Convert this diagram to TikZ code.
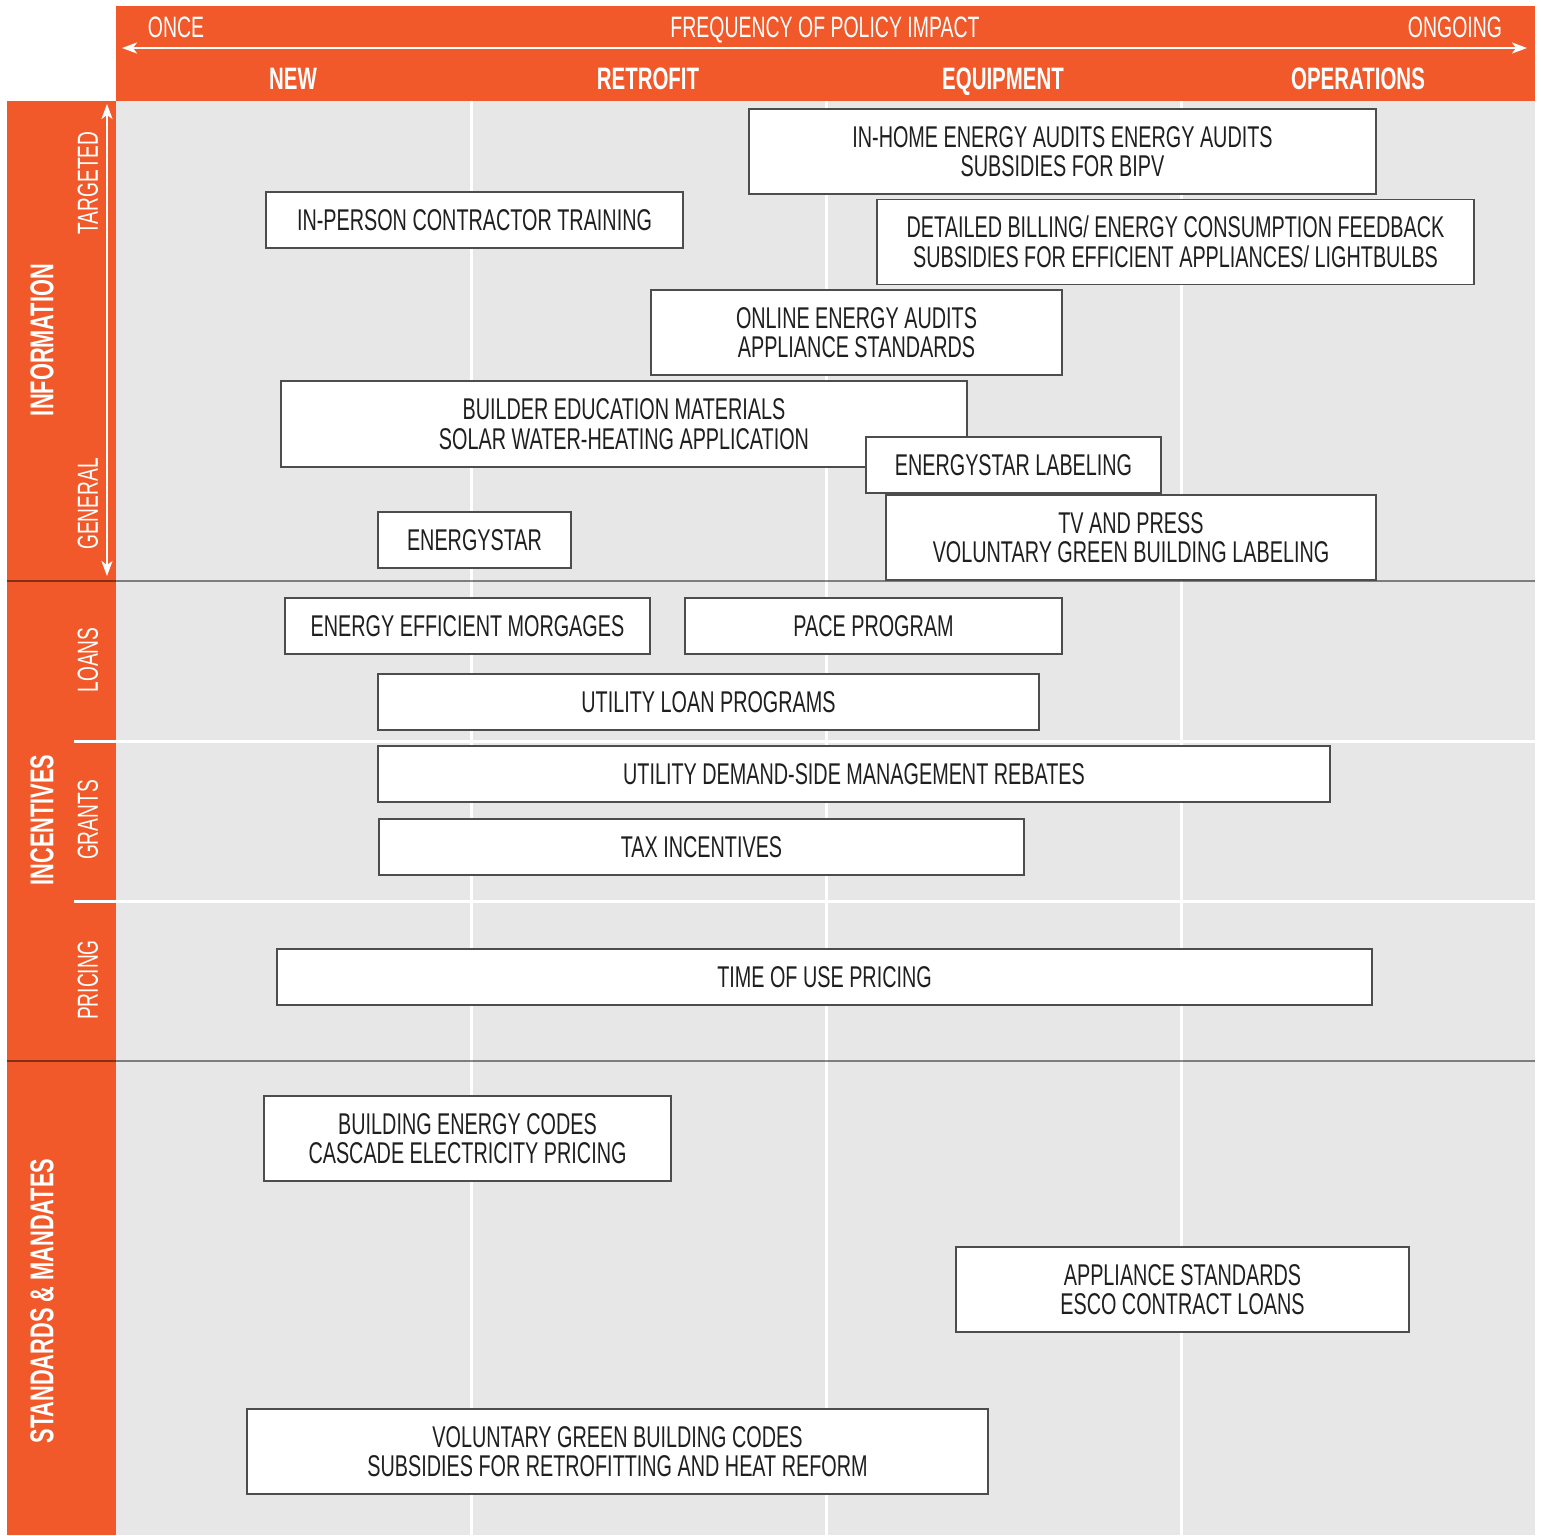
\documentclass[tikz,border=0pt]{standalone}
\usepackage{fontspec}
\setmainfont{Liberation Sans}[FakeStretch=0.66]
\usetikzlibrary{arrows.meta}

\definecolor{policyorange}{HTML}{F1592A}
\definecolor{gridgrey}{HTML}{E6E7E6}
\definecolor{boxline}{HTML}{4D4D4D}

\begin{document}
\begin{tikzpicture}[
    x=1pt, y=-1pt,
    policy/.style={draw=boxline, line width=1.3pt, fill=white, align=center,
        inner sep=0pt, text=black!88, font=\fontsize{30}{29.5}\selectfont},
    colhead/.style={anchor=base, text=white, font=\fontsize{31}{32}\selectfont\bfseries},
    freqlabel/.style={anchor=base, text=white, font=\fontsize{29.5}{30}\selectfont},
    sidehead/.style={rotate=90, text=white, font=\fontsize{33}{34}\selectfont\bfseries},
    sublabel/.style={rotate=90, text=white, font=\fontsize{29}{30}\selectfont},
    axisarrow/.style={white, line width=1.8pt, {Stealth[length=15pt,width=11pt,inset=4pt]}-{Stealth[length=15pt,width=11pt,inset=4pt]}},
    gridline/.style={white, line width=3pt},
    sectionline/.style={black, opacity=0.45, line width=2pt},
  ]
  \useasboundingbox (0,0) rectangle (1541,1535);
  \fill[white] (0,0) rectangle (1541,1535);

  % bands and grid
  \fill[gridgrey] (116,101) rectangle (1535,1535);
  \fill[policyorange] (116,6) rectangle (1535,101);
  \fill[policyorange] (7,101) rectangle (116,1535);
  \foreach \x in {471,826,1181}
    \draw[gridline] (\x,101) -- (\x,1535);
  \foreach \y in {741,901}
    \draw[gridline] (74,\y) -- (1535,\y);
  \foreach \y in {581,1061}
    \draw[sectionline] (7,\y) -- (1535,\y);

  % frequency axis
  \coordinate (freqL) at (122,48);
  \coordinate (freqR) at (1527,48);
  \draw[axisarrow] (freqL) -- (freqR);
  \node[freqlabel] (once) at (176,37) {ONCE};
  \node[freqlabel] (freq) at (825,37) {FREQUENCY OF POLICY IMPACT};
  \node[freqlabel] (ongoing) at (1455,37) {ONGOING};

  \node[colhead] (new) at (293,89) {NEW};
  \node[colhead] (retrofit) at (648,89) {RETROFIT};
  \node[colhead] (equipment) at (1003,89) {EQUIPMENT};
  \node[colhead] (operations) at (1358,89) {OPERATIONS};

  % target axis
  \coordinate (targetT) at (107,104);
  \coordinate (targetB) at (107,576);
  \draw[axisarrow] (targetB) -- (targetT);

  \node[sidehead] (information) at (42,340) {INFORMATION};
  \node[sidehead] (incentives) at (42,820) {INCENTIVES};
  \node[sidehead] (standards) at (42,1301) {STANDARDS \& MANDATES};
  \node[sublabel] (targeted) at (88,183) {TARGETED};
  \node[sublabel] (general) at (88,504) {GENERAL};
  \node[sublabel] (loans) at (88,660) {LOANS};
  \node[sublabel] (grants) at (88,820) {GRANTS};
  \node[sublabel] (pricing) at (88,980) {PRICING};

  % information
  \node[policy, minimum width=627pt, minimum height=85pt] (inhome) at (1062.5,151.5)
    {IN-HOME ENERGY AUDITS ENERGY AUDITS\\SUBSIDIES FOR BIPV};
  \node[policy, minimum width=417pt, minimum height=56pt] (training) at (474.5,220)
    {IN-PERSON CONTRACTOR TRAINING};
  \node[policy, minimum width=597pt, minimum height=85pt] (billing) at (1175.5,242)
    {DETAILED BILLING/ ENERGY CONSUMPTION FEEDBACK\\SUBSIDIES FOR EFFICIENT APPLIANCES/ LIGHTBULBS};
  \node[policy, minimum width=411pt, minimum height=85pt] (online) at (856.5,332.5)
    {ONLINE ENERGY AUDITS\\APPLIANCE STANDARDS};
  \node[policy, minimum width=686pt, minimum height=86pt] (builder) at (624,424)
    {BUILDER EDUCATION MATERIALS\\SOLAR WATER-HEATING APPLICATION};
  \node[policy, minimum width=295pt, minimum height=56pt] (eslabel) at (1013.5,465)
    {ENERGYSTAR LABELING};
  \node[policy, minimum width=193pt, minimum height=56pt] (energystar) at (474.5,540)
    {ENERGYSTAR};
  \node[policy, minimum width=490pt, minimum height=85pt] (tvpress) at (1131,537.5)
    {TV AND PRESS\\VOLUNTARY GREEN BUILDING LABELING};

  % incentives
  \node[policy, minimum width=365pt, minimum height=56pt] (morgages) at (467.5,626)
    {ENERGY EFFICIENT MORGAGES};
  \node[policy, minimum width=377pt, minimum height=56pt] (pace) at (873.5,626)
    {PACE PROGRAM};
  \node[policy, minimum width=661pt, minimum height=56pt] (utilloan) at (708.5,702)
    {UTILITY LOAN PROGRAMS};
  \node[policy, minimum width=952pt, minimum height=56pt] (dsm) at (854,774)
    {UTILITY DEMAND-SIDE MANAGEMENT REBATES};
  \node[policy, minimum width=645pt, minimum height=56pt] (tax) at (701.5,847)
    {TAX INCENTIVES};
  \node[policy, minimum width=1095pt, minimum height=56pt] (tou) at (824.5,977)
    {TIME OF USE PRICING};

  % standards & mandates
  \node[policy, minimum width=407pt, minimum height=85pt] (codes) at (467.5,1138.5)
    {BUILDING ENERGY CODES\\CASCADE ELECTRICITY PRICING};
  \node[policy, minimum width=453pt, minimum height=85pt] (esco) at (1182.5,1289.5)
    {APPLIANCE STANDARDS\\ESCO CONTRACT LOANS};
  \node[policy, minimum width=741pt, minimum height=85pt] (greencodes) at (617.5,1451.5)
    {VOLUNTARY GREEN BUILDING CODES\\SUBSIDIES FOR RETROFITTING AND HEAT REFORM};
\end{tikzpicture}
\end{document}
